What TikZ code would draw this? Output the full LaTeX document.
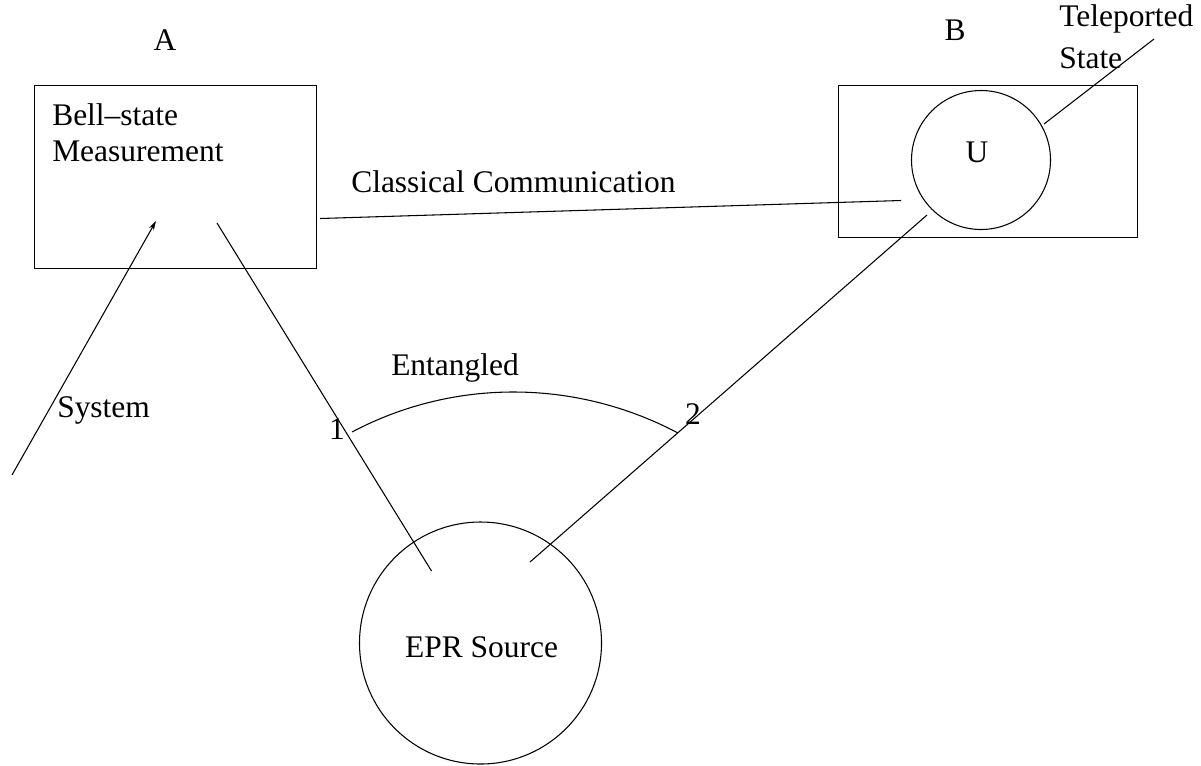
\documentclass[tikz,border=0pt]{standalone}
\usepackage{fontspec}
\setmainfont{Liberation Serif}
\usetikzlibrary{arrows.meta}
\begin{document}
\begin{tikzpicture}[x=0.75pt,y=-0.75pt,
  every node/.style={font=\fontsize{23.6}{28}\selectfont, inner sep=0pt},
  ln/.style={line width=0.8pt},
  lbl/.style={anchor=west}]
\useasboundingbox (0,0) rectangle (1201,765);
% boxes
\node[draw, ln, minimum width=282*0.75pt, minimum height=183*0.75pt, anchor=north west] (boxA) at (33.5,84.5) {};
\node[draw, ln, minimum width=299*0.75pt, minimum height=152*0.75pt, anchor=north west] (boxB) at (838,84.5) {};
\node[draw, ln, circle, minimum size=139*0.75pt] (U) at (981,160) {};
\node (Ut) at (977,152) {U};
\node[draw, ln, circle, minimum size=242*0.75pt] (EPR) at (480.5,643) {};
\node (EPRt) at (481.5,647) {EPR Source};
% labels
\node (A) at (165,40) {A};
\node (B) at (955,30) {B};
\node[lbl] (bell) at (52,115) {Bell--state};
\node[lbl] (meas) at (52,151) {Measurement};
\node[lbl] (cc) at (351,182) {Classical Communication};
\node[lbl] (tel) at (1059,19) {Teleported};
\node[lbl] (st) at (1059,58) {State};
\node[lbl] (sys) at (57,410) {System};
\node[lbl] (ent) at (391,368) {Entangled};
\node (one) at (337,429) {1};
\node (two) at (693,414) {2};
% line endpoints
\coordinate (sysS) at (12,475);
\coordinate (sysE) at (156,221);
\coordinate (l1S) at (217,223);
\coordinate (l1E) at (431.5,571);
\coordinate (l2S) at (927,215);
\coordinate (l2E) at (530,562);
\coordinate (ccS) at (320,218.5);
\coordinate (ccE) at (901,200.5);
\coordinate (tS) at (1044,124);
\coordinate (tE) at (1154,39);
\coordinate (eS) at (352,432);
\coordinate (eE) at (678,433);
% connectors
\draw[ln, -{Stealth[length=7pt,width=4pt]}] (sysS) -- (sysE);
\draw[ln] (l1S) -- (l1E);
\draw[ln] (l2S) -- (l2E);
\draw[ln] (ccS) -- (ccE);
\draw[ln] (tS) -- (tE);
\draw[ln] (eS) .. controls (454,378) and (576,379) .. (eE);
\end{tikzpicture}
\end{document}
